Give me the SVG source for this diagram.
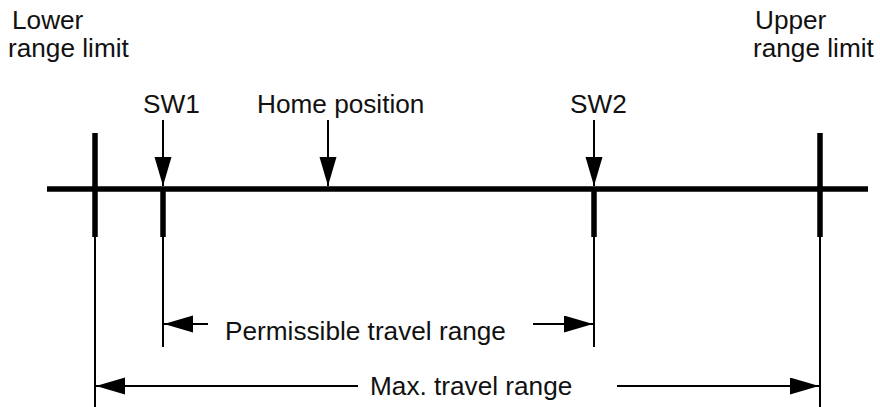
<svg xmlns="http://www.w3.org/2000/svg" width="880" height="407" viewBox="0 0 880 407">
  <defs>
    <marker id="ah" markerUnits="userSpaceOnUse" markerWidth="30" markerHeight="18" refX="29" refY="8.5" orient="auto">
      <path d="M0,0 L29,8.5 L0,17 z" fill="#000"/>
    </marker>
    <style>
      text { font-family: "Liberation Sans", Arial, sans-serif; font-size: 26.2px; fill: #111; }
      .thick { stroke: #000; stroke-width: 5.5; fill: none; }
      .thin { stroke: #000; stroke-width: 2; fill: none; }
      .arr { stroke: #000; stroke-width: 2; fill: none; marker-end: url(#ah); }
    </style>
  </defs>
  <rect width="880" height="407" fill="#fff"/>

  <g id="axis">
    <line class="thick" x1="47" y1="189" x2="868" y2="189"/>
  </g>

  <g id="lower-limit">
    <text x="12" y="29">Lower</text>
    <text x="8" y="57">range limit</text>
    <line class="thick" x1="95" y1="133" x2="95" y2="237"/>
    <line class="thin" x1="95" y1="237" x2="95" y2="407"/>
  </g>

  <g id="upper-limit">
    <text x="755" y="29">Upper</text>
    <text x="753" y="57">range limit</text>
    <line class="thick" x1="820" y1="133" x2="820" y2="237"/>
    <line class="thin" x1="820" y1="237" x2="820" y2="407"/>
  </g>

  <g id="sw1">
    <text x="143" y="113">SW1</text>
    <line class="thick" x1="163" y1="189" x2="163" y2="237"/>
    <line class="thin" x1="163" y1="237" x2="163" y2="347"/>
  </g>

  <g id="home">
    <text x="257" y="113">Home position</text>
  </g>

  <g id="sw2">
    <text x="570" y="113">SW2</text>
    <line class="thick" x1="594" y1="189" x2="594" y2="237"/>
    <line class="thin" x1="594" y1="237" x2="594" y2="347"/>
  </g>

  <g id="permissible">
    <text x="225" y="340">Permissible travel range</text>
  </g>

  <g id="max">
    <text x="370" y="395">Max. travel range</text>
  </g>

  <g id="connectors">
    <line class="arr" x1="163" y1="120" x2="163" y2="186"/>
    <line class="arr" x1="328" y1="120" x2="328" y2="186"/>
    <line class="arr" x1="594" y1="120" x2="594" y2="186"/>
    <line class="arr" x1="208" y1="324" x2="164" y2="324"/>
    <line class="arr" x1="533" y1="324" x2="593" y2="324"/>
    <line class="arr" x1="358" y1="386" x2="96" y2="386"/>
    <line class="arr" x1="617" y1="386" x2="819" y2="386"/>
  </g>
</svg>
